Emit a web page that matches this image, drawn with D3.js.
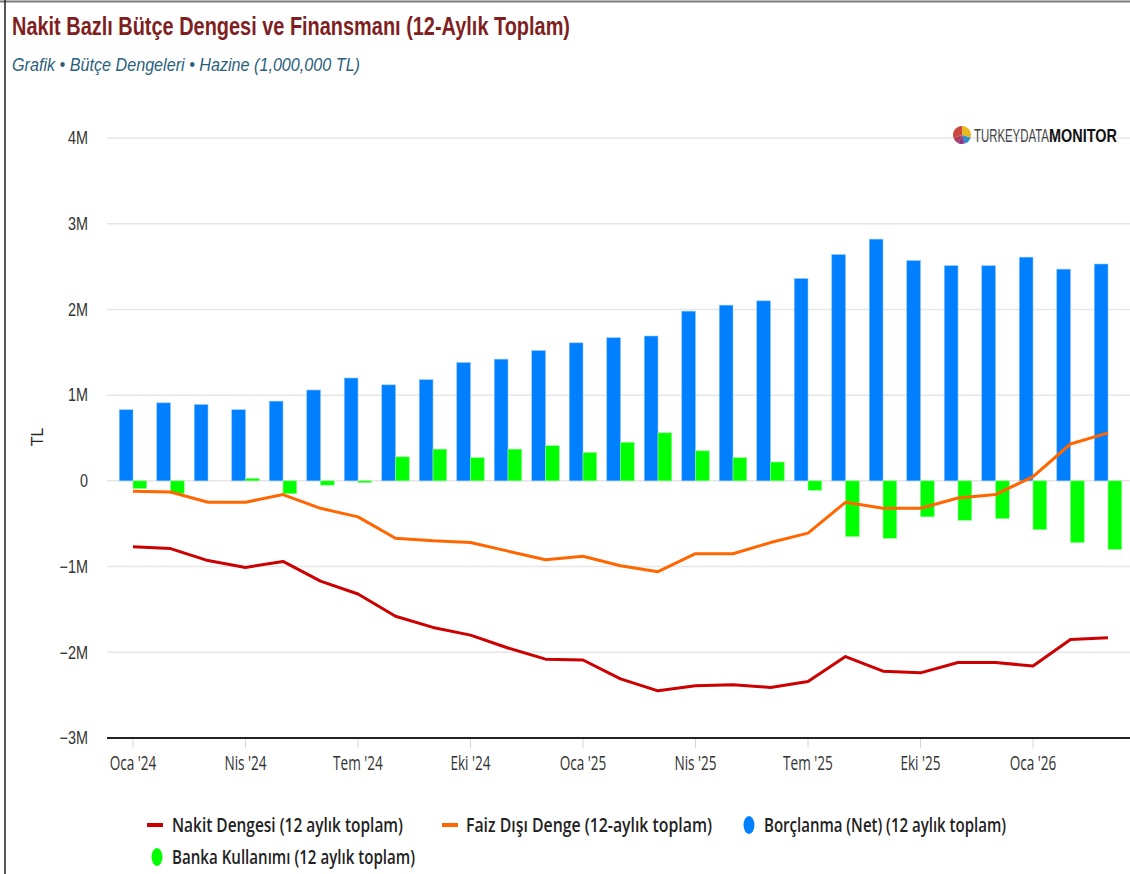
<!DOCTYPE html>
<html>
<head>
<meta charset="utf-8">
<script src="https://cdn.jsdelivr.net/npm/d3@7"></script>
<style>
  body { margin: 0; background: #fff; }
  svg { display: block; font-family: "Liberation Sans", Arial, sans-serif; }
</style>
</head>
<body>
<svg id="chart" width="1130" height="874"></svg>
<script>
// months (Oca '24 .. Mar '26)
var months = ["Oca '24", "Şub '24", "Mar '24", "Nis '24", "May '24", "Haz '24", "Tem '24", "Ağu '24", "Eyl '24",
    "Eki '24", "Kas '24", "Ara '24", "Oca '25", "Şub '25", "Mar '25", "Nis '25", "May '25", "Haz '25",
    "Tem '25", "Ağu '25", "Eyl '25", "Eki '25", "Kas '25", "Ara '25", "Oca '26", "Şub '26", "Mar '26"];

// values in millions (of 1,000,000 TL)
var nakitDengesi = [-0.77, -0.79, -0.93, -1.01, -0.94, -1.17, -1.32, -1.58, -1.71, -1.80, -1.95, -2.08, -2.09,
    -2.31, -2.45, -2.39, -2.38, -2.41, -2.34, -2.05, -2.22, -2.24, -2.12, -2.12, -2.16, -1.85, -1.83];
var faizDisiDenge = [-0.12, -0.13, -0.25, -0.25, -0.16, -0.32, -0.42, -0.67, -0.70, -0.72, -0.82, -0.92, -0.88,
    -0.99, -1.06, -0.85, -0.85, -0.72, -0.61, -0.25, -0.32, -0.32, -0.20, -0.16, 0.05, 0.43, 0.56];
var borclanma = [0.83, 0.91, 0.89, 0.83, 0.93, 1.06, 1.2, 1.12, 1.18, 1.38, 1.42, 1.52, 1.61,
    1.67, 1.69, 1.98, 2.05, 2.10, 2.36, 2.64, 2.82, 2.57, 2.51, 2.51, 2.61, 2.47, 2.53];
var bankaKullanimi = [-0.09, -0.15, 0, 0.03, -0.15, -0.05, -0.02, 0.28, 0.37, 0.27, 0.37, 0.41, 0.33,
    0.45, 0.56, 0.35, 0.27, 0.22, -0.11, -0.65, -0.67, -0.42, -0.46, -0.44, -0.57, -0.72, -0.80];

var yTicks = [-3, -2, -1, 0, 1, 2, 3, 4];

var legendNames = ["Nakit Dengesi (12 aylık toplam)", "Faiz Dışı Denge (12-aylık toplam)",
    "Borçlanma (Net) (12 aylık toplam)", "Banka Kullanımı (12 aylık toplam)"];

var svg = d3.select("#chart");
var plotLeft = 107, plotRight = 1130;

var x = d3.scaleBand().domain(months).range([114.25, 1126.75]).padding(0);
var inner = d3.scaleBand().domain(["b", "g"]).range([5, x.bandwidth() - 5]).padding(0);
var y = d3.scaleLinear().domain([-3, 4]).range([738, 138]);

// frame
svg.append("line").attr("x1", 0).attr("x2", 1130).attr("y1", 1.5).attr("y2", 1.5)
    .attr("stroke", "#7a7a7a").attr("stroke-width", 2);
svg.append("line").attr("x1", 5).attr("x2", 5).attr("y1", 0).attr("y2", 874)
    .attr("stroke", "#222").attr("stroke-width", 1.5);

// titles
svg.append("text").attr("x", 12).attr("y", 35)
    .attr("font-size", 25).attr("font-weight", "bold").attr("fill", "#7f1f1f")
    .attr("textLength", 558).attr("lengthAdjust", "spacingAndGlyphs")
    .text("Nakit Bazlı Bütçe Dengesi ve Finansmanı (12-Aylık Toplam)");
svg.append("text").attr("x", 12).attr("y", 71)
    .attr("font-size", 19).attr("font-style", "italic").attr("fill", "#2b5f7c")
    .attr("textLength", 348).attr("lengthAdjust", "spacingAndGlyphs")
    .text("Grafik • Bütçe Dengeleri • Hazine (1,000,000 TL)");

// grid
svg.append("g").selectAll("line").data(yTicks.filter(function (d) { return d > -3; }))
    .enter().append("line")
    .attr("x1", plotLeft).attr("x2", plotRight)
    .attr("y1", function (d) { return y(d); }).attr("y2", function (d) { return y(d); })
    .attr("stroke", "#e6e6e6").attr("stroke-width", 1.5);

// y labels
svg.append("g").selectAll("text").data(yTicks).enter().append("text")
    .attr("transform", function (d) { return "translate(88," + y(d) + ") scale(0.8,1)"; })
    .attr("text-anchor", "end").attr("dy", "0.35em")
    .attr("font-size", 18).attr("fill", "#333")
    .text(function (d) { return (d < 0 ? "\u2212" + (-d) : d) + (d === 0 ? "" : "M"); });

svg.append("text").attr("transform", "translate(43,437) rotate(-90)")
    .attr("text-anchor", "middle").attr("font-size", 16).attr("fill", "#222").text("TL");

// x axis
var xAxis = d3.axisBottom(x)
    .tickValues(months.filter(function (d, i) { return i % 3 === 0; }))
    .tickSize(10).tickPadding(8);
var gx = svg.append("g").attr("transform", "translate(0,738)").call(xAxis);
gx.select(".domain").remove();
gx.selectAll(".tick line").attr("stroke", "#ccd6eb");
gx.selectAll(".tick text").attr("font-size", 20).attr("fill", "#333")
    .attr("font-family", "'Open Sans', 'Liberation Sans', Arial, sans-serif")
    .attr("transform", "scale(0.68,1)");
svg.append("line").attr("x1", plotLeft).attr("x2", plotRight).attr("y1", 738).attr("y2", 738)
    .attr("stroke", "#222").attr("stroke-width", 2);

// bars
var bars = svg.append("g");
bars.selectAll("rect.borc").data(borclanma).enter().append("rect")
    .attr("class", "borc")
    .attr("x", function (d, i) { return x(months[i]) + inner("b"); })
    .attr("width", inner.bandwidth())
    .attr("y", function (d) { return y(Math.max(0, d)); })
    .attr("height", function (d) { return Math.abs(y(d) - y(0)); })
    .attr("fill", "#0080ff").attr("stroke", "#8cc4ff").attr("stroke-width", 0.6);
bars.selectAll("rect.banka").data(bankaKullanimi).enter().append("rect")
    .attr("class", "banka")
    .attr("x", function (d, i) { return x(months[i]) + inner("g"); })
    .attr("width", inner.bandwidth())
    .attr("y", function (d) { return y(Math.max(0, d)); })
    .attr("height", function (d) { return Math.abs(y(d) - y(0)); })
    .attr("fill", "#00ff00").attr("stroke", "#8cff8c").attr("stroke-width", 0.6);

// lines
var line = d3.line()
    .x(function (d, i) { return x(months[i]) + x.bandwidth() / 2; })
    .y(function (d) { return y(d); });
svg.append("path").datum(faizDisiDenge).attr("d", line)
    .attr("fill", "none").attr("stroke", "#ff6600").attr("stroke-width", 3).attr("stroke-linejoin", "round");
svg.append("path").datum(nakitDengesi).attr("d", line)
    .attr("fill", "none").attr("stroke", "#cc0000").attr("stroke-width", 3).attr("stroke-linejoin", "round");

// logo
var logo = svg.append("g").attr("transform", "translate(962,135)");
var pie = d3.pie().sort(null)([30, 15, 12, 13, 30]);
var arc = d3.arc().innerRadius(0).outerRadius(9);
logo.selectAll("path").data(pie).enter().append("path").attr("d", arc)
    .attr("fill", function (d, i) { return ["#e8b923", "#2f8fc9", "#8a3c8c", "#b33a5a", "#c9483f"][i]; });
svg.append("text").attr("transform", "translate(974,142) scale(0.6,1)")
    .attr("font-size", 19).attr("fill", "#444").text("TURKEYDATA");
svg.append("text").attr("transform", "translate(1049,142) scale(0.76,1)")
    .attr("font-size", 19).attr("fill", "#111").attr("font-weight", "bold").text("MONITOR");

// legend
var legendItems = [
    { name: legendNames[0], kind: "line", color: "#cc0000", sx: 155, tx: 172, ty: 825, w: 231 },
    { name: legendNames[1], kind: "line", color: "#ff6600", sx: 450, tx: 466, ty: 825, w: 246 },
    { name: legendNames[2], kind: "dot", color: "#0080ff", sx: 749, tx: 764, ty: 825, w: 242 },
    { name: legendNames[3], kind: "dot", color: "#00ff00", sx: 157, tx: 172, ty: 857, w: 243 }
];
var lg = svg.append("g");
legendItems.forEach(function (it) {
    if (it.kind === "line") {
        lg.append("line").attr("x1", it.sx - 8).attr("x2", it.sx + 8)
            .attr("y1", it.ty).attr("y2", it.ty)
            .attr("stroke", it.color).attr("stroke-width", 4);
    } else {
        lg.append("ellipse").attr("cx", it.sx).attr("cy", it.ty).attr("rx", 5.5).attr("ry", 9)
            .attr("fill", it.color);
    }
    lg.append("text").attr("x", it.tx).attr("y", it.ty).attr("dy", "0.35em")
        .attr("font-size", 20).attr("font-weight", 600).attr("fill", "#222")
        .attr("font-family", "'Open Sans', 'Liberation Sans', Arial, sans-serif")
        .attr("textLength", it.w).attr("lengthAdjust", "spacingAndGlyphs")
        .text(it.name);
});
</script>
</body>
</html>
